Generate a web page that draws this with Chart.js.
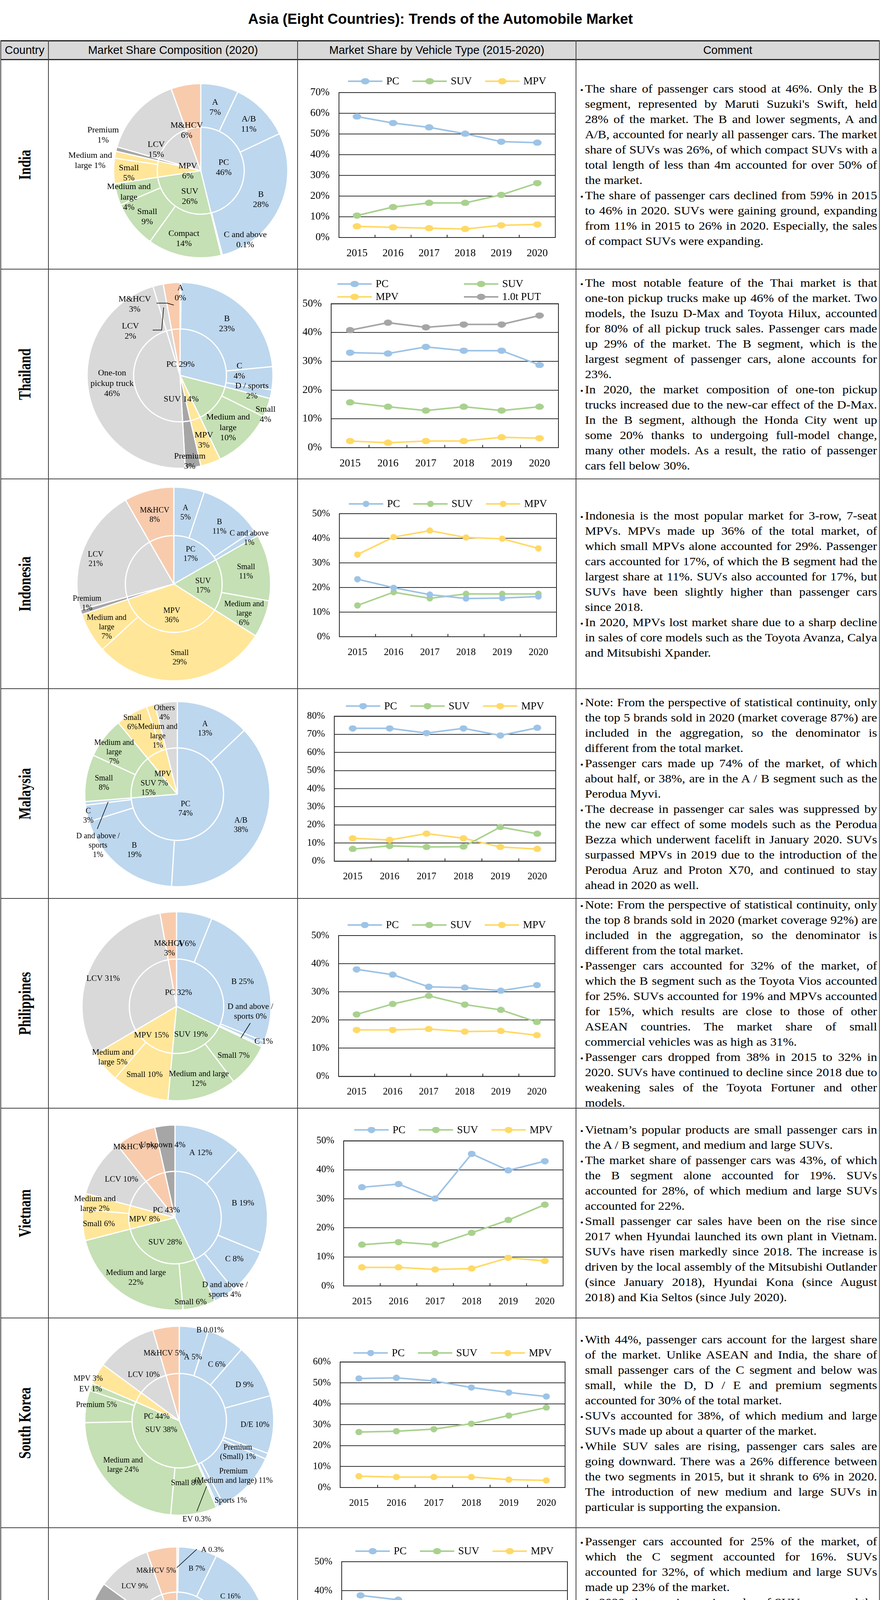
<!DOCTYPE html>
<html>
<head>
<meta charset="utf-8">
<title>Asia (Eight Countries): Trends of the Automobile Market</title>
<script src="https://cdn.jsdelivr.net/npm/chart.js@4.4.1/dist/chart.umd.min.js"></script>
<style>
  html, body { margin: 0; padding: 0; background: #fff; }
  body { position: relative; width: 2256px; height: 4522px; overflow: hidden; font-family: "Liberation Serif", "Times New Roman", serif; color: #000; }
  #title { position: absolute; left: 0; width: 2256px; top: 28px; height: 44px; line-height: 44px; text-align: center; font: bold 37px "Liberation Sans", Arial, sans-serif; }
  .head { position: absolute; top: 105px; height: 47px; background: #d9d9d9; display: flex; align-items: center; justify-content: center; font: 29px "Liberation Sans", Arial, sans-serif; }
  .rule { position: absolute; background: #404040; }
  .country { position: absolute; left: 63px; white-space: nowrap; font: bold 44px "Liberation Serif", serif; transform: translate(-50%, -50%) rotate(-90deg) scaleX(0.77); }
  .comment { position: absolute; left: 1475px; width: 777px; height: 537px; display: flex; flex-direction: column; justify-content: center; align-items: flex-start; }
  .wrap { width: 686px; margin-left: 23px; transform: scaleX(1.0904); transform-origin: 0 50%; font-size: 30px; line-height: 39px; text-align: justify; }
  .wrap p { margin: 0; position: relative; }
  .wrap p::before { content: ""; position: absolute; left: -10px; top: 21px; width: 5px; height: 5px; border-radius: 50%; background: #000; }
  .nb { white-space: nowrap; }
  canvas { position: absolute; }
  #note { position: absolute; right: 9px; top: 4475px; font-size: 26px; line-height: 32px; white-space: nowrap; }
</style>
</head>
<body>
<div id="title">Asia (Eight Countries): Trends of the Automobile Market</div>
<div id="note">(Created using documents of the national automotive industry association and other sources)</div>
<script>
"use strict"

// ---------- data ----------
const years = ['2015', '2016', '2017', '2018', '2019', '2020']
const countries = ['India', 'Thailand', 'Indonesia', 'Malaysia', 'Philippines', 'Vietnam', 'South Korea', 'Taiwan']
const headers = ['Country', 'Market Share Composition (2020)', 'Market Share by Vehicle Type (2015-2020)', 'Comment']

// market share by vehicle type, %
const indiaPC = [58.4, 55.3, 53.2, 50.1, 46.3, 45.8]
const indiaSUV = [10.6, 14.7, 16.7, 16.7, 20.6, 26.3]
const indiaMPV = [5.4, 4.9, 4.5, 4.1, 5.9, 6.3]
const thaiPC = [33.0, 32.7, 35.0, 33.7, 33.7, 28.7]
const thaiSUV = [15.7, 14.2, 12.9, 14.2, 12.9, 14.2]
const thaiMPV = [2.3, 1.7, 2.3, 2.3, 3.6, 3.3]
const thaiPUT = [40.8, 43.4, 41.8, 42.8, 42.8, 45.9]
const indoPC = [23.4, 19.9, 17.1, 15.5, 15.7, 16.3]
const indoSUV = [12.7, 18.1, 15.6, 17.4, 17.4, 17.4]
const indoMPV = [33.4, 40.5, 43.1, 40.3, 39.8, 35.9]
const malayPC = [73.3, 73.3, 70.7, 73.3, 69.4, 73.6]
const malaySUV = [6.7, 8.4, 7.8, 8.0, 18.8, 15.1]
const malayMPV = [12.6, 11.7, 15.2, 12.6, 7.8, 6.7]
const philPC = [38.0, 36.1, 31.8, 31.5, 30.4, 32.4]
const philSUV = [22.0, 25.7, 28.6, 25.5, 23.6, 19.3]
const philMPV = [16.5, 16.5, 16.8, 15.9, 16.1, 14.6]
const vietPC = [34.0, 35.1, 30.1, 45.5, 39.8, 43.0]
const vietSUV = [14.2, 15.1, 14.2, 18.3, 22.7, 28.0]
const vietMPV = [6.4, 6.4, 5.7, 6.0, 9.7, 8.6]
const korPC = [52.1, 52.4, 50.9, 47.8, 45.4, 43.5]
const korSUV = [26.5, 26.9, 27.9, 30.5, 34.4, 38.2]
const korMPV = [5.4, 5.0, 5.0, 5.0, 3.8, 3.4]
const taiPC = [38.4, 36.9, 33.5, 30.1, 28.4, 24.5]
const taiSUV = [20.1, 21.2, 25.0, 27.6, 28.0, 32.2]
const taiMPV = [12.0, 12.0, 10.8, 9.8, 8.8, 7.3]

// composition 2020: inner ring = vehicle type, outer ring = segment (clockwise from 12 o'clock)
const indiaInnerType = ['PC', 'SUV', 'MPV', 'PREM', 'LCV', 'MHCV']
const indiaInnerShare = [46.2, 26.4, 6.0, 0.8, 15.1, 5.5]
const indiaInnerText = ['PC\n46%', 'SUV\n26%', 'MPV\n6%', '', 'LCV\n15%', 'M&HCV\n6%']
const indiaOuterType = ['PC', 'PC', 'PC', 'PC', 'SUV', 'SUV', 'SUV', 'MPV', 'MPV', 'PREM', 'LCV', 'MHCV']
const indiaOuterShare = [7.0, 11.0, 28.0, 0.2, 13.7, 8.7, 4.0, 4.7, 1.3, 0.8, 15.1, 5.5]
const indiaOuterText = ['A\n7%', 'A/B\n11%', 'B\n28%', 'C and above\n0.1%', 'Compact\n14%', 'Small\n9%', 'Medium and\nlarge\n4%', 'Small\n5%', 'Medium and\nlarge 1%', 'Premium\n1%', '', '']

const thaiInnerType = ['PC', 'SUV', 'MPV', 'PREM', 'LCV', 'LCV', 'MHCV']
const thaiInnerShare = [29.0, 13.9, 3.5, 2.7, 46.2, 1.8, 2.9]
const thaiInnerText = ['PC 29%', 'SUV 14%', '', '', '', '', '']
const thaiOuterType = ['PC', 'PC', 'PC', 'PC', 'SUV', 'SUV', 'MPV', 'PREM', 'LCV', 'LCV', 'MHCV']
const thaiOuterShare = [0.2, 23.3, 4.0, 1.5, 3.3, 10.6, 3.5, 2.7, 46.2, 1.8, 2.9]
const thaiOuterText = ['A\n0%', 'B\n23%', 'C\n4%', 'D / sports\n2%', 'Small\n4%', 'Medium and\nlarge\n10%', 'MPV\n3%', 'Premium\n3%', 'One-ton\npickup truck\n46%', 'LCV\n2%', 'M&HCV\n3%']

const indoInnerType = ['PC', 'SUV', 'MPV', 'PREM', 'LCV', 'MHCV']
const indoInnerShare = [16.7, 17.3, 35.9, 0.8, 21.0, 8.3]
const indoInnerText = ['PC\n17%', 'SUV\n17%', 'MPV\n36%', '', '', '']
const indoOuterType = ['PC', 'PC', 'PC', 'SUV', 'SUV', 'MPV', 'MPV', 'PREM', 'LCV', 'MHCV']
const indoOuterShare = [5.1, 10.5, 1.1, 11.1, 6.2, 29.2, 6.7, 0.8, 21.0, 8.3]
const indoOuterText = ['A\n5%', 'B\n11%', 'C and above\n1%', 'Small\n11%', 'Medium and\nlarge\n6%', 'Small\n29%', 'Medium and\nlarge\n7%', 'Premium\n1%', 'LCV\n21%', 'M&HCV\n8%']

const malayInnerType = ['PC', 'SUV', 'MPV', 'LCV']
const malayInnerShare = [73.7, 15.3, 7.1, 3.9]
const malayInnerText = ['PC\n74%', 'SUV\n15%', 'MPV\n7%', '']
const malayOuterType = ['PC', 'PC', 'PC', 'PC', 'PC', 'SUV', 'SUV', 'MPV', 'MPV', 'LCV']
const malayOuterShare = [12.9, 38.1, 19.2, 2.9, 0.6, 8.2, 7.1, 5.6, 1.5, 3.9]
const malayOuterText = ['A\n13%', 'A/B\n38%', 'B\n19%', 'C\n3%', 'D and above /\nsports\n1%', 'Small\n8%', 'Medium and\nlarge\n7%', 'Small\n6%', 'Medium and\nlarge\n1%', 'Others\n4%']

const philInnerType = ['PC', 'SUV', 'MPV', 'LCV', 'MHCV']
const philInnerShare = [32.1, 19.4, 15.1, 30.7, 2.8]
const philInnerText = ['PC 32%', 'SUV 19%', 'MPV 15%', '', '']
const philOuterType = ['PC', 'PC', 'PC', 'PC', 'SUV', 'SUV', 'MPV', 'MPV', 'LCV', 'MHCV']
const philOuterShare = [6.1, 25.0, 0.7, 0.3, 7.6, 11.8, 9.8, 5.3, 30.7, 2.8]
const philOuterText = ['A 6%', 'B 25%', 'C 1%', 'D and above /\nsports 0%', 'Small 7%', 'Medium and large\n12%', 'Small 10%', 'Medium and\nlarge 5%', 'LCV 31%', 'M&HCV\n3%']

const vietInnerType = ['PC', 'SUV', 'MPV', 'LCV', 'MHCV', 'PREM']
const vietInnerShare = [42.9, 28.1, 8.2, 10.1, 7.2, 3.5]
const vietInnerText = ['PC 43%', 'SUV 28%', 'MPV 8%', '', '', '']
const vietOuterType = ['PC', 'PC', 'PC', 'PC', 'SUV', 'SUV', 'MPV', 'MPV', 'LCV', 'MHCV', 'PREM']
const vietOuterShare = [12.0, 19.2, 7.9, 3.8, 5.7, 22.4, 5.4, 2.8, 10.1, 7.2, 3.5]
const vietOuterText = ['A 12%', 'B 19%', 'C 8%', 'D and above /\nsports 4%', 'Small 6%', 'Medium and large\n22%', 'Small 6%', 'Medium and\nlarge 2%', 'LCV 10%', 'M&HCV 7%', 'Unknown 4%']

const korInnerType = ['PC', 'SUV', 'MPV', 'LCV', 'MHCV']
const korInnerShare = [43.6, 37.9, 3.6, 10.4, 4.5]
const korInnerText = ['PC 44%', 'SUV 38%', '', '', '']
const korOuterType = ['PC', 'PC', 'PC', 'PC', 'PC', 'PC', 'PC', 'PC', 'PC', 'SUV', 'SUV', 'SUV', 'SUV', 'MPV', 'LCV', 'MHCV']
const korOuterShare = [5.0, 0.01, 6.4, 9.3, 9.9, 1.0, 10.6, 1.0, 0.3, 7.9, 23.2, 5.5, 1.3, 3.6, 10.4, 4.5]
const korOuterText = ['A 5%', 'B 0.01%', 'C 6%', 'D 9%', 'D/E 10%', 'Premium\n(Small) 1%', 'Premium\n(Medium and large) 11%', 'Sports 1%', 'EV 0.3%', 'Small 8%', 'Medium and\nlarge 24%', 'Premium 5%', 'EV 1%', 'MPV 3%', 'LCV 10%', 'M&HCV 5%']

const taiInnerType = ['PC', 'SUV', 'MPV', 'PREM', 'LCV', 'MHCV']
const taiInnerShare = [24.8, 32.3, 8.3, 19.6, 9.6, 5.4]
const taiInnerText = ['PC 25%', 'SUV 32%', 'MPV 7%', '', '', '']
const taiOuterType = ['PC', 'PC', 'PC', 'PC', 'SUV', 'SUV', 'MPV', 'MPV', 'PREM', 'LCV', 'MHCV']
const taiOuterShare = [0.3, 6.9, 15.8, 1.8, 9.3, 23.0, 3.2, 5.1, 19.6, 9.6, 5.4]
const taiOuterText = ['A 0.3%', 'B 7%', 'C 16%', 'D and above /\nsports 2%', 'Small 9%', 'Medium and large\n23%', 'Small 3%', 'Medium and\nlarge 4%', 'Premium 21%', 'LCV 9%', 'M&HCV 5%']

const comments = [
  ["The share of passenger cars stood at 46%. Only the B segment, represented by Maruti Suzuki's Swift, held 28% of the market. The B and lower segments, A and A/B, accounted for nearly all passenger cars. The market share of SUVs was 26%, of which compact SUVs with a total length of less than 4m accounted for over 50% of the market.",
   "The share of passenger cars declined from 59% in 2015 to 46% in 2020. SUVs were gaining ground, expanding from 11% in 2015 to 26% in 2020. Especially, the sales of compact SUVs were expanding."],
  ["The most notable feature of the Thai market is that one-ton pickup trucks make up 46% of the market. Two models, the Isuzu D-Max and Toyota Hilux, accounted for 80% of all pickup truck sales. Passenger cars made up 29% of the market. The B segment, which is the largest segment of passenger cars, alone accounts for 23%.",
   "In 2020, the market composition of one-ton pickup trucks increased due to the new-car effect of the D-Max. In the B segment, although the Honda City went up some 20% thanks to undergoing full-model change, many other models. As a result, the ratio of passenger cars fell below 30%."],
  ["Indonesia is the most popular market for 3-row, 7-seat MPVs. MPVs made up 36% of the total market, of which small MPVs alone accounted for 29%. Passenger cars accounted for 17%, of which the B segment had the largest share at 11%. SUVs also accounted for 17%, but SUVs have been slightly higher than passenger cars since 2018.",
   "In 2020, MPVs lost market share due to a sharp decline in sales of core models such as the Toyota Avanza, Calya and Mitsubishi Xpander."],
  ["Note: From the perspective of statistical continuity, only the top 5 brands sold in 2020 (market coverage 87%) are included in the aggregation, so the denominator is different from the total market.",
   "Passenger cars made up 74% of the market, of which about half, or 38%, are in the A / B segment such as the Perodua Myvi.",
   "The decrease in passenger car sales was suppressed by the new car effect of some models such as the Perodua Bezza which underwent facelift in January 2020. SUVs surpassed MPVs in 2019 due to the introduction of the Perodua Aruz and Proton X70, and continued to stay ahead in 2020 as well."],
  ["Note: From the perspective of statistical continuity, only the top 8 brands sold in 2020 (market coverage 92%) are included in the aggregation, so the denominator is different from the total market.",
   "Passenger cars accounted for 32% of the market, of which the B segment such as the Toyota Vios accounted for 25%. SUVs accounted for 19% and MPVs accounted for 15%, which results are close to those of other ASEAN countries. The market share of small commercial vehicles was as high as 31%.",
   "Passenger cars dropped from 38% in 2015 to 32% in 2020. SUVs have continued to decline since 2018 due to weakening sales of the Toyota Fortuner and other models."],
  ["Vietnam\u2019s popular products are small passenger cars in the A / B segment, and medium and large SUVs.",
   "The market share of passenger cars was 43%, of which the B segment alone accounted for 19%. SUVs accounted for 28%, of which medium and large SUVs accounted for 22%.",
   "Small passenger car sales have been on the rise since 2017 when Hyundai launched its own plant in Vietnam. SUVs have risen markedly since 2018. The increase is driven by the local assembly of the Mitsubishi Outlander (since January 2018), Hyundai Kona (since August 2018) and Kia Seltos (since July 2020)."],
  ["With 44%, passenger cars account for the largest share of the market. Unlike ASEAN and India, the share of small passenger cars of the C segment and below was small, while the D, D / E and premium segments accounted for 30% of the total market.",
   "SUVs accounted for 38%, of which medium and large SUVs made up about a quarter of the market.",
   "While SUV sales are rising, passenger cars sales are going downward. There was a 26% difference between the two segments in 2015, but it shrank to 6% in 2020. The introduction of new medium and large SUVs in particular is supporting the expansion."],
  ["Passenger cars accounted for 25% of the market, of which the C segment accounted for 16%. SUVs accounted for 32%, of which medium and large SUVs made up 23% of the market.",
   "In 2020, the ever-increasing sales of SUVs surpassed the decreasing sales of passenger cars. The introduction of the Toyota Corolla Cross and the full-model change of the Ford Kuga boosted demand. Since 2015, while passenger cars have declined over 10%, SUVs have risen over 10%.",
   "Not only mass-market brands but also premium marques are becoming more popular, accounting for 21% of the market in 2020."]
]

// ---------- styles & layout ----------
const serif = '"Liberation Serif", "Times New Roman", serif'
const fills = { PC: '#bdd7ee', SUV: '#c5e0b4', MPV: '#ffe699', LCV: '#d9d9d9', MHCV: '#f8cbad', PREM: '#a6a6a6' }
const lineColors = { PC: '#9dc3e6', SUV: '#a9d18e', MPV: '#ffd966', PUT: '#a5a5a5' }
const rowTops = [153, 689, 1226, 1763, 2300, 2837, 3374, 3911]
const rowH = 537
const colX = [1, 123, 761, 1474, 2251]

// plot boxes of the line charts (page px)
const lineLay = [
  { L: 868, R: 1422, T: 237, B: 608, max: 70, tick: 27, legY: -29, mw: 22 },
  { L: 848, R: 1430, T: 777.5, B: 1146, max: 50, tick: 27, mw: 22, grid: { x0: 16, step: 324, rows: [-50.5, -17.5] } },
  { L: 869, R: 1425, T: 1315, B: 1630, max: 50, tick: 25, legY: -25, mw: 17 },
  { L: 856, R: 1423, T: 1833.5, B: 2204.5, max: 80, tick: 25, legY: -26, mw: 20 },
  { L: 867, R: 1421, T: 2395, B: 2755.5, max: 50, tick: 25, legY: -27, mw: 20 },
  { L: 880, R: 1442, T: 2920.5, B: 3292, max: 50, tick: 25, legY: -28, mw: 20 },
  { L: 871, R: 1447, T: 3486.6, B: 3808, max: 60, tick: 25, legY: -23, mw: 18 },
  { L: 875, R: 1453, T: 3998, B: 4370, max: 50, tick: 25, legY: -27, mw: 21 }
]

// pie centre / radius and label anchors (px from pie centre)
const pieLay = [
  { cx: 514, cy: 437, R: 223, size: 22,
    outer: [[37,-162],[123,-119],[154,74],[114,177],[-43,174],[-137,118],[-184,68],[-184,6],[-283,-26],[-250,-91],null,null],
    inner: [[59,-8],[-28,66],[-33,1],null,[-114,-54],[-36,-103]] },
  { cx: 461, cy: 961, R: 238, size: 22,
    outer: [[1,-211],[120,-132],[152,-11],[184,40],[219,100],[123,134],[61,166],[25,220],[-174,21],[-127,-113],[-116,-182]],
    inner: [[1,-28],[3,61],null,null,null,null,null],
    leaders: [[[-60,-185],[-33,-185],[-16,-180]], [[-70,-116],[-47,-116],[-42,-174]]] },
  { cx: 445, cy: 1495, R: 248, size: 20,
    outer: [[30,-182],[117,-146],[193,-117],[185,-31],[180,76],[15,189],[-172,111],[-222,50],[-200,-63],[-49,-176]],
    inner: [[43,-76],[75,5],[-5,81],null,null,null] },
  { cx: 454, cy: 2033, R: 237, size: 20,
    outer: [[71,-167],[163,80],[-110,144],[-228,56],[-203,132],[-188,-28],[-162,-107],[-115,-183],[-50,-148],[-33,-208]],
    inner: [[21,38],[-74,-15],[-37,-39],null],
    leaders: [[[-205,89],[-177,20]]] },
  { cx: 452, cy: 2576, R: 242, size: 21,
    outer: [[25,-160],[169,-63],[223,90],[189,14],[146,126],[57,186],[-82,175],[-163,131],[-188,-71],[-18,-148]],
    inner: [[5,-35],[37,72],[-64,74],null,null],
    leaders: [[[189,43],[165,81]]] },
  { cx: 448, cy: 3117, R: 237, size: 21,
    outer: [[66,-166],[174,-37],[152,106],[128,185],[40,216],[-100,154],[-195,16],[-205,-35],[-137,-98],[-102,-181],[-31,-186]],
    inner: [[-22,-19],[-25,63],[-78,4],null,null,null] },
  { cx: 459, cy: 3637, R: 242, size: 20,
    outer: [[35,-162],[79,-231],[96,-143],[167,-91],[194,11],[150,81],[139,142],[132,205],[45,253],[18,160],[-144,114],[-212,-40],[-227,-80],[-233,-107],[-91,-117],[-38,-172]],
    inner: [[-58,-10],[-46,24],null,null,null],
    leaders: [[[70,168],[45,232]]] },
  { cx: 453, cy: 4191, R: 231, size: 19,
    outer: [[91,-223],[51,-175],[137,-104],[161,-11],[173,50],[51,175],[-96,175],[-144,143],[-165,-3],[-108,-130],[-53,-170]],
    inner: [[5,-56],[55,72],[-36,64],null,null,null],
    leaders: [[[51,-225],[0,-178]]] }
]

const lineSeries = [
  [['PC', 'PC', indiaPC], ['SUV', 'SUV', indiaSUV], ['MPV', 'MPV', indiaMPV]],
  [['PC', 'PC', thaiPC], ['SUV', 'SUV', thaiSUV], ['MPV', 'MPV', thaiMPV], ['1.0t PUT', 'PUT', thaiPUT]],
  [['PC', 'PC', indoPC], ['SUV', 'SUV', indoSUV], ['MPV', 'MPV', indoMPV]],
  [['PC', 'PC', malayPC], ['SUV', 'SUV', malaySUV], ['MPV', 'MPV', malayMPV]],
  [['PC', 'PC', philPC], ['SUV', 'SUV', philSUV], ['MPV', 'MPV', philMPV]],
  [['PC', 'PC', vietPC], ['SUV', 'SUV', vietSUV], ['MPV', 'MPV', vietMPV]],
  [['PC', 'PC', korPC], ['SUV', 'SUV', korSUV], ['MPV', 'MPV', korMPV]],
  [['PC', 'PC', taiPC], ['SUV', 'SUV', taiSUV], ['MPV', 'MPV', taiMPV]]
]

const pies = [
  [indiaInnerType, indiaInnerShare, indiaInnerText, indiaOuterType, indiaOuterShare, indiaOuterText],
  [thaiInnerType, thaiInnerShare, thaiInnerText, thaiOuterType, thaiOuterShare, thaiOuterText],
  [indoInnerType, indoInnerShare, indoInnerText, indoOuterType, indoOuterShare, indoOuterText],
  [malayInnerType, malayInnerShare, malayInnerText, malayOuterType, malayOuterShare, malayOuterText],
  [philInnerType, philInnerShare, philInnerText, philOuterType, philOuterShare, philOuterText],
  [vietInnerType, vietInnerShare, vietInnerText, vietOuterType, vietOuterShare, vietOuterText],
  [korInnerType, korInnerShare, korInnerText, korOuterType, korOuterShare, korOuterText],
  [taiInnerType, taiInnerShare, taiInnerText, taiOuterType, taiOuterShare, taiOuterText]
]

// ---------- table frame ----------
function box(cls, x, y, w, h) {
  const d = document.createElement('div')
  d.className = cls
  Object.assign(d.style, { left: x + 'px', top: y + 'px', width: w + 'px', height: h + 'px' })
  document.body.appendChild(d)
  return d
}

for (let c = 0; c < 4; c++) {
  const d = box('head', colX[c] + 2, 105, colX[c + 1] - colX[c] - 2, 47)
  d.textContent = headers[c]
}
const tableBottom = rowTops[7] + rowH
box('rule', 1, 103, 2252, 3).style.background = '#1a1a1a'
box('rule', 1, 151, 2252, 3).style.background = '#262626'
for (let i = 1; i < 8; i++) box('rule', 1, rowTops[i] - 1, 2252, 2)
box('rule', 1, tableBottom - 2, 2252, 3).style.background = '#1a1a1a'
colX.forEach(x => box('rule', x, 103, 2, tableBottom - 103))

// hyphenated words stay on one line, as in the original layout
function fillParagraph(p, text) {
  text.split(/(\S*-\S*)/).forEach(part => {
    if (!part) return
    if (part.includes('-')) {
      const s = document.createElement('span')
      s.className = 'nb'
      s.textContent = part
      p.appendChild(s)
    } else {
      p.appendChild(document.createTextNode(part))
    }
  })
}

countries.forEach((name, i) => {
  const d = document.createElement('div')
  d.className = 'country'
  d.style.top = (rowTops[i] + rowH / 2) + 'px'
  d.textContent = name
  document.body.appendChild(d)

  const c = document.createElement('div')
  c.className = 'comment'
  c.style.top = rowTops[i] + 'px'
  const w = document.createElement('div')
  w.className = 'wrap'
  comments[i].forEach(t => {
    const p = document.createElement('p')
    fillParagraph(p, t)
    w.appendChild(p)
  })
  c.appendChild(w)
  document.body.appendChild(c)
})

// ---------- line charts ----------
function dot(color, w, h) {
  const c = document.createElement('canvas')
  c.width = w
  c.height = h
  const g = c.getContext('2d')
  g.fillStyle = color
  g.beginPath()
  g.ellipse(w / 2, h / 2, w / 2, h / 2, 0, 0, Math.PI * 2)
  g.fill()
  return c
}

function framePlugin() {
  return {
    id: 'frame',
    beforeDatasetsDraw(chart) {
      const { ctx, chartArea: a } = chart
      const xs = chart.scales.x
      ctx.save()
      ctx.strokeStyle = '#262626'
      ctx.lineWidth = 2
      ctx.strokeRect(a.left, a.top, a.right - a.left, a.bottom - a.top)
      ctx.beginPath()
      for (let k = 0; k < years.length - 1; k++) {
        const x = (xs.getPixelForValue(k) + xs.getPixelForValue(k + 1)) / 2
        ctx.moveTo(x, a.bottom)
        ctx.lineTo(x, a.bottom - 7)
      }
      ctx.stroke()
      ctx.restore()
    }
  }
}

function legendPlugin(lay, ds) {
  return {
    id: 'xlLegend',
    afterDraw(chart) {
      const { ctx, chartArea: a } = chart
      const len = 88
      ctx.save()
      ctx.font = '27px ' + serif
      ctx.textBaseline = 'middle'
      ctx.textAlign = 'left'
      const items = ds.map(d => ({ d, w: len + 10 + ctx.measureText(d.label).width }))
      const put = (it, x, y) => {
        ctx.strokeStyle = it.d.borderColor
        ctx.lineWidth = 4
        ctx.beginPath()
        ctx.moveTo(x, y)
        ctx.lineTo(x + len, y)
        ctx.stroke()
        const img = it.d.pointStyle
        ctx.drawImage(img, x + len / 2 - img.width / 2, y - img.height / 2)
        ctx.fillStyle = '#000'
        ctx.fillText(it.d.label, x + len + 10, y + 1)
      }
      if (lay.grid) {
        items.forEach((it, k) => put(it, a.left + lay.grid.x0 + (k % 2) * lay.grid.step, a.top + lay.grid.rows[Math.floor(k / 2)]))
      } else {
        const gap = 34
        const total = items.reduce((s, it) => s + it.w, 0) + gap * (items.length - 1)
        let x = (a.left + a.right) / 2 - total / 2
        items.forEach(it => { put(it, x, a.top + lay.legY); x += it.w + gap })
      }
      ctx.restore()
    }
  }
}

function makeLine(i) {
  const lay = lineLay[i]
  const cv = document.createElement('canvas')
  const ox = colX[2] + 2, oy = rowTops[i] + 1
  cv.width = colX[3] - ox
  cv.height = rowH - 2
  cv.style.left = ox + 'px'
  cv.style.top = oy + 'px'
  document.body.appendChild(cv)

  const ds = lineSeries[i].map(([name, key, values]) => {
    const col = lineColors[key]
    return { label: name, data: values, borderColor: col, backgroundColor: col, borderWidth: 4,
      pointStyle: dot(col, lay.mw, 16), pointRadius: 8, tension: 0, clip: false }
  })
  const font = { family: serif, size: lay.tick }

  new Chart(cv, {
    type: 'line',
    data: { labels: years, datasets: ds },
    options: {
      responsive: false, animation: false, devicePixelRatio: 1, events: [],
      layout: { padding: { left: 0, top: lay.T - oy, right: ox + cv.width - lay.R, bottom: 0 } },
      plugins: { legend: { display: false }, tooltip: { enabled: false } },
      scales: {
        x: {
          offset: true, grid: { display: false }, border: { display: false },
          ticks: { color: '#000', font, padding: 17, maxRotation: 0, autoSkip: false },
          afterFit: s => { s.height = oy + cv.height - lay.B }
        },
        y: {
          min: 0, max: lay.max, border: { display: false },
          grid: { color: '#333333', lineWidth: 2, drawTicks: false },
          ticks: { stepSize: 10, color: '#000', font, padding: 24, callback: v => v + '%' },
          afterFit: s => { s.width = lay.L - ox }
        }
      }
    },
    plugins: [framePlugin(), legendPlugin(lay, ds)]
  })
}

// ---------- composition pies ----------
function labelPlugin(lay, innerText, outerText) {
  return {
    id: 'sliceLabels',
    afterDatasetsDraw(chart) {
      const ctx = chart.ctx
      const arc = chart.getDatasetMeta(0).data[0]
      const cx = arc.x, cy = arc.y
      const lh = lay.size * 1.2
      ctx.save()
      ctx.strokeStyle = '#000'
      ctx.lineWidth = 1.5
      ;(lay.leaders || []).forEach(pts => {
        ctx.beginPath()
        pts.forEach((p, k) => k ? ctx.lineTo(cx + p[0], cy + p[1]) : ctx.moveTo(cx + p[0], cy + p[1]))
        ctx.stroke()
      })
      ctx.fillStyle = '#000'
      ctx.font = lay.size + 'px ' + serif
      ctx.textAlign = 'center'
      ctx.textBaseline = 'middle'
      const ring = (texts, pos) => texts.forEach((t, k) => {
        const p = pos[k]
        if (!t || !p) return
        const lines = t.split('\n')
        lines.forEach((ln, j) => ctx.fillText(ln, cx + p[0], cy + p[1] + (j - (lines.length - 1) / 2) * lh))
      })
      ring(outerText, lay.outer)
      ring(innerText, lay.inner)
      ctx.restore()
    }
  }
}

function makePie(i) {
  const lay = pieLay[i]
  const [innerType, innerShare, innerText, outerType, outerShare, outerText] = pies[i]
  const cv = document.createElement('canvas')
  const ox = colX[1] + 2, oy = rowTops[i] + 1
  cv.width = colX[2] - ox
  cv.height = rowH - 2
  cv.style.left = ox + 'px'
  cv.style.top = oy + 'px'
  document.body.appendChild(cv)

  new Chart(cv, {
    type: 'pie',
    data: {
      datasets: [
        { data: outerShare, backgroundColor: outerType.map(t => fills[t]), borderColor: '#ffffff', borderWidth: 3 },
        { data: innerShare, backgroundColor: innerType.map(t => fills[t]), borderColor: '#ffffff', borderWidth: 3 }
      ]
    },
    options: {
      responsive: false, animation: false, devicePixelRatio: 1, events: [],
      radius: lay.R,
      layout: { padding: {
        left: lay.cx - lay.R - ox, right: ox + cv.width - lay.cx - lay.R,
        top: lay.cy - lay.R - oy, bottom: oy + cv.height - lay.cy - lay.R } },
      plugins: { legend: { display: false }, tooltip: { enabled: false } }
    },
    plugins: [labelPlugin(lay, innerText, outerText)]
  })
}

for (let i = 0; i < countries.length; i++) {
  makePie(i)
  makeLine(i)
}
</script>
</body>
</html>
